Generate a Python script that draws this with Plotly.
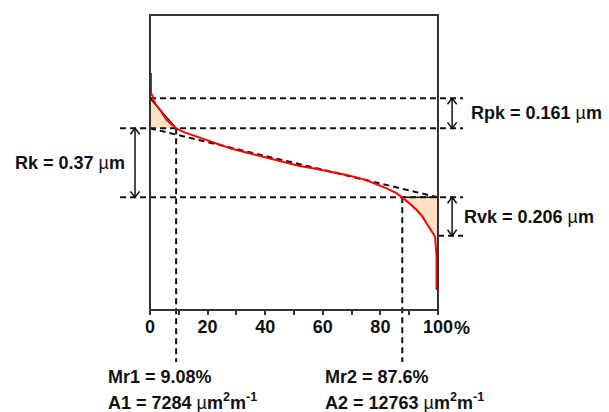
import plotly.graph_objects as go

# Abbott-Firestone (bearing) curve: material ratio in %, height in µm (datum = core centre)
material_ratio = [0.35, 0.35, 0.9, 1.2, 2.1, 3.5, 5.8, 9.08, 12, 16.2, 22, 27.8, 34, 40, 46,
                  51.5, 57, 63, 69, 74.5, 79, 82.2, 85.7, 87.6, 90, 92.6, 94.5, 96.0, 97.8,
                  99.0, 99.5, 99.5]
height = [0.481, 0.374, 0.358, 0.337, 0.31, 0.283, 0.229, 0.185, 0.163, 0.140, 0.108, 0.078,
          0.053, 0.030, 0.008, -0.016, -0.030, -0.047, -0.068, -0.090, -0.115, -0.137, -0.164,
          -0.185, -0.216, -0.253, -0.286, -0.324, -0.369, -0.396, -0.503, -0.682]

# Rk family parameters
RK = 0.37
RPK = 0.161
RVK = 0.206
MR1 = 9.08
MR2 = 87.6
A1 = 7284
A2 = 12763

major_ticks = [0, 20, 40, 60, 80, 100]
major_labels = ["0", "20", "40", "60", "80", "100"]
minor_ticks = [10, 30, 50, 70, 90]

# Derived levels
upper = RK / 2
lower = -RK / 2
peak = upper + RPK
valley = lower - RVK

# Frame geometry (axes span the whole canvas so guides can run outside the box)
X_RANGE = [-52.08, 159.38]
Y_RANGE = [-1.336, 0.873]
BOX_BOTTOM, BOX_TOP = -0.789, 0.7925
GUIDE_LEFT, GUIDE_RIGHT = -10.4, 108.7
GUIDE_BOTTOM = -1.068
ARROW_LEFT, ARROW_RIGHT = -5.2, 104.9
HEAD_DX, HEAD_DY = 1.6, 0.032   # arrowhead half-width (in %) and depth (in µm)

FONT = "Liberation Sans, Arial, sans-serif"
INK = "#111111"
PEACH = "#FDE3C4"
DASH = "6px,4px"
MU = "<span style='font-weight:normal'>µ</span>"

fig = go.Figure()

# equivalent-area triangles
fig.add_trace(go.Scatter(x=[0, 0, MR1, 0], y=[upper, peak, upper, upper], fill="toself",
                         fillcolor=PEACH, line=dict(width=0), mode="lines", hoverinfo="skip"))
fig.add_trace(go.Scatter(x=[MR2, 100, 100, MR2], y=[lower, lower, valley, lower], fill="toself",
                         fillcolor=PEACH, line=dict(width=0), mode="lines", hoverinfo="skip"))


def guide(xs, ys, dash=DASH, width=2):
    fig.add_trace(go.Scatter(x=xs, y=ys, mode="lines", hoverinfo="skip",
                             line=dict(color=INK, width=width, dash=dash)))


# horizontal guide levels
guide([0, GUIDE_RIGHT], [peak, peak])
guide([GUIDE_LEFT, GUIDE_RIGHT], [upper, upper])
guide([GUIDE_LEFT, GUIDE_RIGHT], [lower, lower])
guide([100, GUIDE_RIGHT], [valley, valley])
# material ratio drop lines
guide([MR1, MR1], [upper, GUIDE_BOTTOM])
guide([MR2, MR2], [lower, GUIDE_BOTTOM])
# equivalent straight line
guide([0, 100], [upper, lower])
# triangle edges
guide([0, MR1], [peak, upper], dash="solid", width=1.5)
guide([MR2, 100, 100], [lower, lower, valley], dash="solid", width=1.5)


def dimension_arrow(x, y_low, y_high):
    # shaft plus open V heads at both ends
    guide([x, x], [y_low, y_high], dash="solid", width=1.5)
    guide([x - HEAD_DX, x, x + HEAD_DX], [y_high - HEAD_DY, y_high, y_high - HEAD_DY],
          dash="solid", width=1.5)
    guide([x - HEAD_DX, x, x + HEAD_DX], [y_low + HEAD_DY, y_low, y_low + HEAD_DY],
          dash="solid", width=1.5)


dimension_arrow(ARROW_LEFT, lower, upper)
dimension_arrow(ARROW_RIGHT, upper, peak)
dimension_arrow(ARROW_RIGHT, valley, lower)

# bearing curve
fig.add_trace(go.Scatter(x=material_ratio, y=height, mode="lines", hoverinfo="skip",
                         line=dict(color="#FF0000", width=2)))

# plot frame
fig.add_shape(type="rect", x0=0, x1=100, y0=BOX_BOTTOM, y1=BOX_TOP,
              line=dict(color="#333333", width=2), layer="above")

annotations = []


def label(x, y, text, anchor="left", xshift=0):
    annotations.append(dict(x=x, y=y, xref="x", yref="y", text=text, showarrow=False,
                            xanchor=anchor, yanchor="middle", xshift=xshift,
                            font=dict(family=FONT, size=18, color=INK, weight="bold")))


label(-8.1, (upper + lower) / 2, f"Rk = {RK:g} {MU}m", anchor="right")
label(110.9, (upper + peak) / 2, f"Rpk = {RPK:g} {MU}m")
label(108.2, (lower + valley) / 2, f"Rvk = {RVK:g} {MU}m")
label(-15.3, -1.149, f"Mr1 = {MR1:.2f}%")
label(-15.3, -1.277, f"A1 = {A1} {MU}m<sup>2</sup>m<sup>-1</sup>")
label(60.1, -1.149, f"Mr2 = {MR2:g}%")
label(60.1, -1.277, f"A2 = {A2} {MU}m<sup>2</sup>m<sup>-1</sup>")
label(100, -0.885, "%", xshift=14)

fig.update_layout(
    width=609, height=412,
    margin=dict(l=0, r=0, t=0, b=0),
    paper_bgcolor="white", plot_bgcolor="white",
    showlegend=False,
    annotations=annotations,
    xaxis=dict(range=X_RANGE, anchor="free", position=1 - 310 / 412,
               tickmode="array", tickvals=major_ticks, ticktext=major_labels,
               ticks="outside", ticklen=4, tickwidth=2, tickcolor="#333333",
               ticklabelstandoff=-4,
               minor=dict(tickmode="array", tickvals=minor_ticks, ticks="outside",
                          ticklen=4, tickwidth=2, tickcolor="#333333", showgrid=False),
               showline=False, showgrid=False, zeroline=False,
               tickfont=dict(family=FONT, size=18, color=INK, weight="bold")),
    yaxis=dict(range=Y_RANGE, visible=False, showgrid=False, zeroline=False),
)

fig.write_html("out.html")
